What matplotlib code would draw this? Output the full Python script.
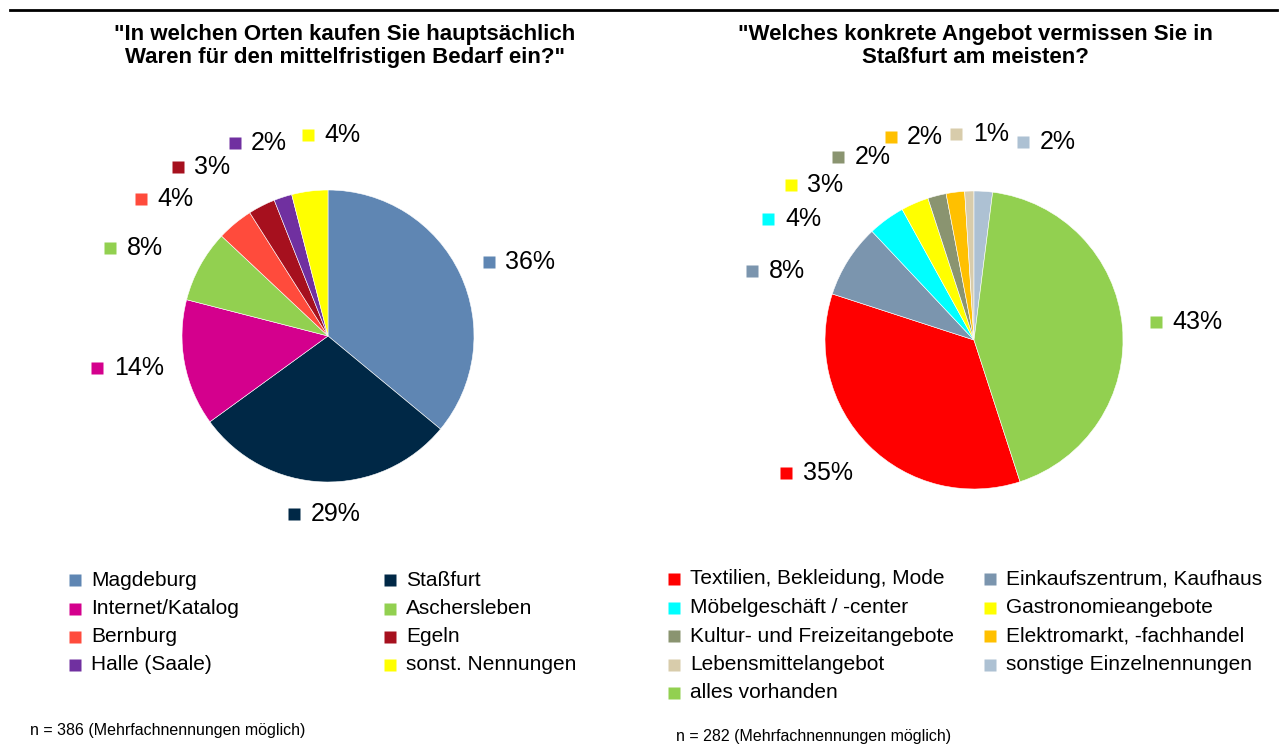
import matplotlib.pyplot as plt
from matplotlib.lines import Line2D

plt.rcParams['font.family'] = ['Liberation Sans', 'DejaVu Sans']

# left chart: where people shop for medium-term goods
orte = ["Magdeburg", "Staßfurt", "Internet/Katalog", "Aschersleben",
        "Bernburg", "Egeln", "Halle (Saale)", "sonst. Nennungen"]
orte_pct = [36, 29, 14, 8, 4, 3, 2, 4]
orte_farben = ["#5F86B3", "#002846", "#D4008D", "#92D050",
               "#FF4B3C", "#A6101E", "#7030A0", "#FFFF00"]

# right chart: what is missing in Staßfurt
angebot = ["Textilien, Bekleidung, Mode", "Einkaufszentrum, Kaufhaus",
           "Möbelgeschäft / -center", "Gastronomieangebote",
           "Kultur- und Freizeitangebote", "Elektromarkt, -fachhandel",
           "Lebensmittelangebot", "sonstige Einzelnennungen", "alles vorhanden"]
angebot_pct = [35, 8, 4, 3, 2, 2, 1, 2, 43]
angebot_farben = ["#FF0000", "#7B95AE", "#00FFFF", "#FFFF00", "#8A9470",
                  "#FFC000", "#D8CCAB", "#ADC1D3", "#92D050"]

# label anchor positions (in units of pie radius)
orte_lab_pos = [(1.10, 0.51), (-0.23, -1.22), (-1.58, -0.22), (-1.49, 0.60),
                (-1.28, 0.94), (-1.03, 1.16), (-0.64, 1.32), (-0.14, 1.38)]
angebot_lab_pos = [(-1.26, -0.89), (-1.49, 0.46), (-1.38, 0.81), (-1.23, 1.04),
                   (-0.91, 1.23), (-0.56, 1.36), (-0.12, 1.38), (0.33, 1.33),
                   (1.22, 0.12)]

W, H = 1281, 744
fig = plt.figure(figsize=(W / 100, H / 100), dpi=100)


def pie_axes(cx, cy, r):
    return fig.add_axes([(cx - r) / W, (H - cy - r) / H, 2 * r / W, 2 * r / H])


def draw_pie(ax, vals, cols, lab_pos, start):
    ax.pie(vals, colors=cols, startangle=start, counterclock=False,
           radius=1.0, wedgeprops=dict(linewidth=0.4, edgecolor='white'))
    ax.set_xlim(-1, 1)
    ax.set_ylim(-1, 1)
    ax.set_aspect('equal')
    ax.axis('off')
    for v, c, (x, y) in zip(vals, cols, lab_pos):
        ax.plot(x, y, marker='s', ms=8, color=c, mec='none', clip_on=False)
        ax.annotate(f"{v}%", (x, y), xytext=(12, 0), textcoords='offset points',
                    fontsize=18, va='center', ha='left', annotation_clip=False)


def draw_legend(names, cols, x_sq, y_rows, dx_text):
    for i, (n, c) in enumerate(zip(names, cols)):
        row, col = divmod(i, 2)
        xs, ys = x_sq[col], y_rows[row]
        fig.add_artist(Line2D([xs / W], [1 - ys / H], marker='s', ms=8,
                              color=c, mec='none', transform=fig.transFigure))
        fig.text((xs + dx_text) / W, 1 - ys / H, n, fontsize=15,
                 va='center', ha='left')


ax1 = pie_axes(328, 336, 146)
draw_pie(ax1, orte_pct, orte_farben, orte_lab_pos, 90)

ax2 = pie_axes(974, 340, 149)
draw_pie(ax2, angebot_pct, angebot_farben, angebot_lab_pos, -72)

# top rule
fig.add_artist(Line2D([10 / W, 1277 / W], [1 - 10 / H, 1 - 10 / H],
                      color='black', lw=2, transform=fig.transFigure))

fig.text(345 / W, 1 - 46 / H,
         "\"In welchen Orten kaufen Sie hauptsächlich\nWaren für den mittelfristigen Bedarf ein?\"",
         fontsize=16, fontweight='bold', ha='center', va='center', linespacing=1.1)
fig.text(975 / W, 1 - 46 / H,
         "\"Welches konkrete Angebot vermissen Sie in\nStaßfurt am meisten?",
         fontsize=16, fontweight='bold', ha='center', va='center', linespacing=1.1)

rows = [580, 608.5, 637, 665, 693]
draw_legend(orte, orte_farben, [75, 390], rows, 16)
draw_legend(angebot, angebot_farben, [674, 990], [579, 607.5, 636, 664.5, 693], 16)

fig.text(30 / W, 1 - 731 / H, "n = 386 (Mehrfachnennungen möglich)",
         fontsize=11.5, va='center', ha='left')
fig.text(676 / W, 1 - 737 / H, "n = 282 (Mehrfachnennungen möglich)",
         fontsize=11.5, va='center', ha='left')

fig.savefig("out.png", dpi=100)
